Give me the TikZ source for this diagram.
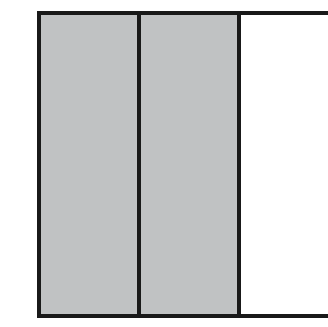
\documentclass[tikz,border=0pt]{standalone}
\definecolor{panelgray}{HTML}{C0C2C3}
\begin{document}
\begin{tikzpicture}[x=1pt,y=-1pt,
  panel/.style={draw=black!90, line width=4pt}]
\useasboundingbox (0,0) rectangle (328,326);
\clip (0,0) rectangle (328,326);
\fill[white] (0,0) rectangle (328,326);
\node[panel, fill=panelgray, minimum width=101pt, minimum height=302.5pt, inner sep=0pt, anchor=north west] (p1) at (36.5,11.5) {};
\node[panel, fill=panelgray, minimum width=99.5pt, minimum height=302.5pt, inner sep=0pt, anchor=north west] (p2) at (137,11.5) {};
\node[panel, fill=white, minimum width=110pt, minimum height=302.5pt, inner sep=0pt, anchor=north west] (p3) at (236.5,11.5) {};
\end{tikzpicture}
\end{document}
